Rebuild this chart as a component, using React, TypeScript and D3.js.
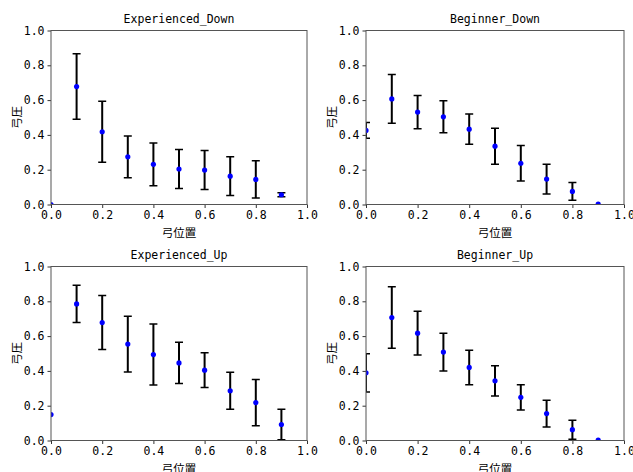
import React, { useRef, useEffect } from 'react';
import * as d3 from 'd3';

// bow positions shared by every panel
const positions = [0.0, 0.1, 0.2, 0.3, 0.4, 0.5, 0.6, 0.7, 0.8, 0.9];
const ticks = [0.0, 0.2, 0.4, 0.6, 0.8, 1.0];

const titles = ['Experienced_Down', 'Beginner_Down', 'Experienced_Up', 'Beginner_Up'];

// mean pressure and error (std) per position
const expDownMean = [0.0, 0.678, 0.418, 0.274, 0.231, 0.204, 0.198, 0.163, 0.144, 0.056];
const expDownErr = [0.0, 0.188, 0.175, 0.12, 0.123, 0.112, 0.112, 0.111, 0.107, 0.012];
const begDownMean = [0.426, 0.607, 0.531, 0.504, 0.433, 0.335, 0.237, 0.146, 0.075, 0.002];
const begDownErr = [0.045, 0.14, 0.096, 0.092, 0.087, 0.103, 0.102, 0.085, 0.051, 0.0];
const expUpMean = [0.149, 0.785, 0.678, 0.554, 0.494, 0.446, 0.404, 0.286, 0.218, 0.092];
const expUpErr = [0.0, 0.107, 0.155, 0.16, 0.175, 0.119, 0.1, 0.106, 0.133, 0.088];
const begUpMean = [0.389, 0.707, 0.617, 0.508, 0.42, 0.343, 0.248, 0.155, 0.062, 0.002];
const begUpErr = [0.11, 0.177, 0.126, 0.108, 0.099, 0.087, 0.073, 0.077, 0.055, 0.0];

const means = [expDownMean, begDownMean, expUpMean, begUpMean];
const errs = [expDownErr, begDownErr, expUpErr, begUpErr];

const xLabel = '弓位置';
const yLabel = '弓圧';

const font = '"DejaVu Sans Mono", "Noto Sans CJK JP", monospace';

const App = () => {
  const svgRef = useRef<SVGSVGElement>(null);

  useEffect(() => {
    const svg = d3.select(svgRef.current);
    svg.selectAll('*').remove();

    // panel frames: left/right columns, top/bottom rows
    const cols = [[51, 307], [366, 624]];
    const rows = [[30.5, 204.5], [266.5, 440.5]];

    titles.forEach((title, i) => {
      const [x0, x1] = cols[i % 2];
      const [y0, y1] = rows[Math.floor(i / 2)];

      const x = d3.scaleLinear().domain([0, 1]).range([x0, x1]);
      const y = d3.scaleLinear().domain([0, 1]).range([y1, y0]);

      const g = svg.append('g');

      g.append('clipPath')
        .attr('id', `clip${i}`)
        .append('rect')
        .attr('x', x0).attr('y', y0)
        .attr('width', x1 - x0).attr('height', y1 - y0);

      const plot = g.append('g').attr('clip-path', `url(#clip${i})`);

      const pts = positions.map((p, j) => ({ p, m: means[i][j], e: errs[i][j] }));

      // error bars
      const bars = plot.selectAll('g.bar').data(pts).enter().append('g');
      bars.append('line')
        .attr('x1', d => x(d.p)).attr('x2', d => x(d.p))
        .attr('y1', d => y(d.m - d.e)).attr('y2', d => y(d.m + d.e))
        .attr('stroke', '#000').attr('stroke-width', 2);
      [-1, 1].forEach(s => {
        bars.filter(d => d.e > 0).append('line')
          .attr('x1', d => x(d.p) - 4).attr('x2', d => x(d.p) + 4)
          .attr('y1', d => y(d.m + s * d.e)).attr('y2', d => y(d.m + s * d.e))
          .attr('stroke', '#000').attr('stroke-width', 1.5);
      });

      // mean points
      plot.selectAll('circle').data(pts).enter().append('circle')
        .attr('cx', d => x(d.p)).attr('cy', d => y(d.m))
        .attr('r', 2.6).attr('fill', '#0000ff');

      // axes
      const xa = g.append('g')
        .attr('transform', `translate(0,${y1})`)
        .call(d3.axisBottom(x).tickValues(ticks).tickFormat(d3.format('.1f')).tickSize(3.5).tickPadding(3));
      const ya = g.append('g')
        .attr('transform', `translate(${x0},0)`)
        .call(d3.axisLeft(y).tickValues(ticks).tickFormat(d3.format('.1f')).tickSize(3.5).tickPadding(3));
      [xa, ya].forEach(a => {
        a.select('.domain').remove();
        a.selectAll('line').attr('stroke', '#333');
        a.selectAll('text').attr('font-family', font).attr('font-size', 11.5).attr('fill', '#000');
      });

      // frame
      g.append('rect')
        .attr('x', x0).attr('y', y0)
        .attr('width', x1 - x0).attr('height', y1 - y0)
        .attr('fill', 'none').attr('stroke', '#555').attr('stroke-width', 1);

      g.append('text')
        .attr('x', (x0 + x1) / 2).attr('y', y0 - 8)
        .attr('text-anchor', 'middle')
        .attr('font-family', font).attr('font-size', 11.5)
        .text(title);

      g.append('text')
        .attr('x', (x0 + x1) / 2).attr('y', y1 + 32)
        .attr('text-anchor', 'middle')
        .attr('font-family', font).attr('font-size', 11.5)
        .text(xLabel);

      g.append('text')
        .attr('transform', `translate(${x0 - 30},${(y0 + y1) / 2}) rotate(-90)`)
        .attr('text-anchor', 'middle')
        .attr('font-family', font).attr('font-size', 11.5)
        .text(yLabel);
    });
  }, []);

  return (
    <svg
      ref={svgRef}
      width={633}
      height={472}
      style={{ position: 'absolute', left: 0, top: 0, background: '#fff' }}
    />
  );
};

export default App;
